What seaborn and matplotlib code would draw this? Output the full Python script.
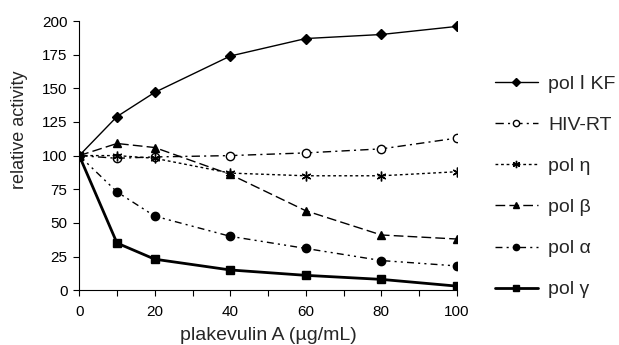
import pandas as pd
import seaborn as sns
import matplotlib.pyplot as plt

# Data
conc = [0, 10, 20, 40, 60, 80, 100]
pol_I_KF = [100, 129, 147, 174, 187, 190, 196]
hiv_rt = [100, 98, 99, 100, 102, 105, 113]
pol_eta = [100, 100, 98, 87, 85, 85, 88]
pol_beta = [100, 109, 106, 86, 59, 41, 38]
pol_alpha = [100, 73, 55, 40, 31, 22, 18]
pol_gamma = [100, 35, 23, 15, 11, 8, 3]

labels = ["pol \u2160 KF", "HIV-RT", "pol \u03b7", "pol \u03b2", "pol \u03b1", "pol \u03b3"]
series = [pol_I_KF, hiv_rt, pol_eta, pol_beta, pol_alpha, pol_gamma]

sns.set_style("ticks")
plt.rcParams["font.family"] = ["Liberation Sans", "DejaVu Sans"]

# line style, marker, facecolor, linewidth, markersize
styles = [
    ("-", "D", "black", 1.0, 5),
    ((0, (6, 3, 1.5, 3)), "o", "white", 1.0, 6),
    ((0, (2, 2)), (6, 2, 0), "black", 1.0, 7),
    ((0, (7, 3)), "^", "black", 1.0, 6),
    ((0, (5, 3, 1.5, 3, 1.5, 3)), "o", "black", 1.0, 6),
    ("-", "s", "black", 2.0, 6),
]

fig = plt.figure(figsize=(6.19, 3.45), dpi=100)
ax = fig.add_axes([0.128, 0.159, 0.61, 0.78])

for lab, vals, (ls, mk, fc, lw, ms) in zip(labels, series, styles):
    df = pd.DataFrame({"conc": conc, "activity": vals})
    sns.lineplot(data=df, x="conc", y="activity", ax=ax, color="black",
                 linestyle=ls, linewidth=lw, marker=mk, markersize=ms,
                 markerfacecolor=fc, markeredgecolor="black",
                 markeredgewidth=1.0, label=lab)

ax.set_xlim(0, 100)
ax.set_ylim(0, 200)
ax.set_xticks(range(0, 101, 20))
ax.set_xticks(range(0, 101, 10), minor=True)
ax.set_yticks(range(0, 201, 25))
ax.tick_params(axis="both", which="both", direction="out", length=4.5, width=0.8,
               labelsize=11, colors="black", pad=4)
ax.tick_params(axis="x", pad=6)
for s in ["top", "right"]:
    ax.spines[s].set_visible(False)
for s in ["left", "bottom"]:
    ax.spines[s].set_linewidth(0.8)
    ax.spines[s].set_color("black")
ax.set_xlabel("plakevulin A (\u00b5g/mL)", fontsize=14, labelpad=6)
ax.set_ylabel("relative activity", fontsize=13)
ax.yaxis.set_label_coords(-0.135, 0.595)

ax.legend(loc="center left", bbox_to_anchor=(0.787, 0.459),
          bbox_transform=fig.transFigure, borderaxespad=0, frameon=False,
          fontsize=14, labelspacing=1.21, handlelength=2.2, handletextpad=0.55,
          markerscale=0.75)

fig.savefig("out.png", dpi=100)
